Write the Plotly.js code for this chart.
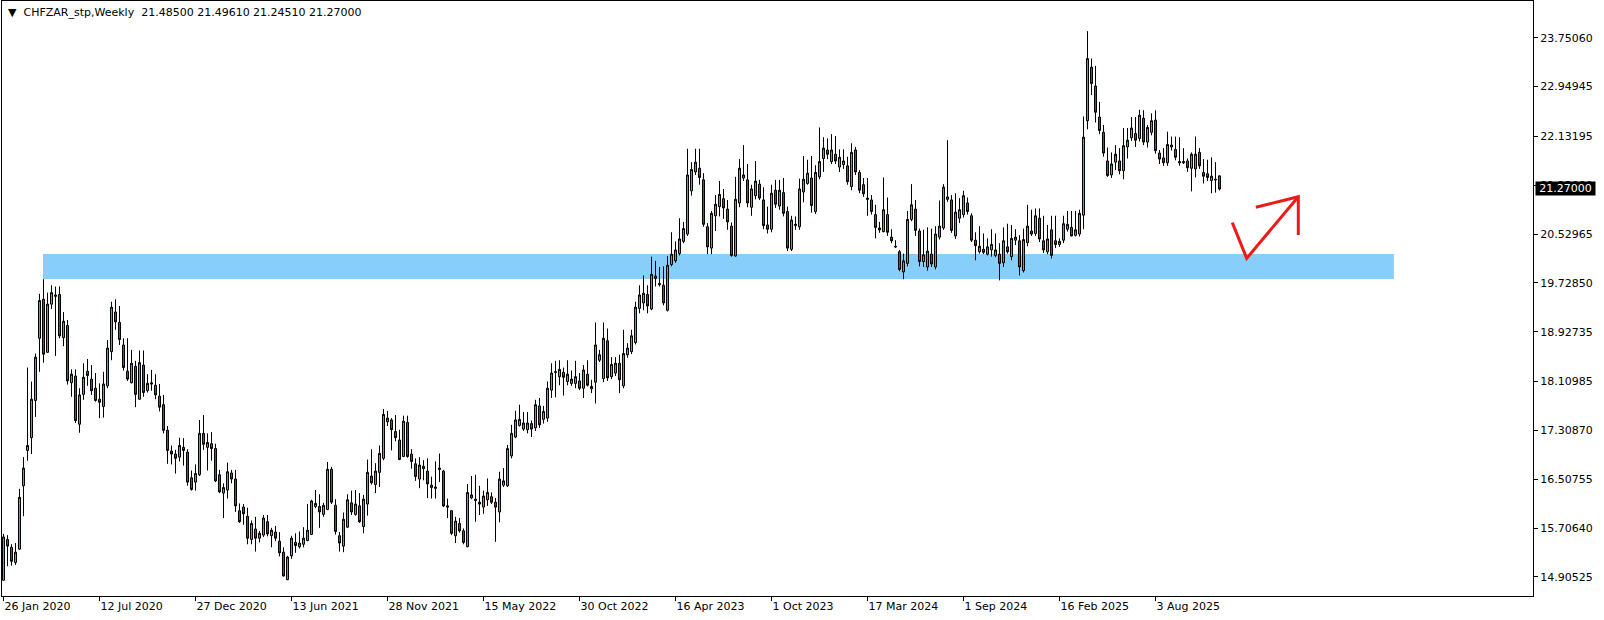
<!DOCTYPE html>
<html><head><meta charset="utf-8">
<script src="https://cdn.plot.ly/plotly-3.0.1.min.js"></script>
<style>html,body{margin:0;padding:0;background:#fff;overflow:hidden}</style>
</head><body><div id="chart" style="width:1604px;height:620px"></div>
<script>
const symbol = 'CHFZAR_stp';
const timeframe = 'Weekly';

const open = [
14.85,15.52,15.39,15.14,15.36,16.40,16.98,17.19,17.80,18.82,
19.46,18.59,19.38,19.53,19.54,18.83,19.03,18.09,18.20,17.41,
17.90,18.28,18.15,18.00,17.82,17.70,18.04,18.60,19.25,19.08,
18.71,18.28,18.09,18.36,17.82,18.38,17.96,18.09,18.05,17.87,
17.73,17.31,16.97,16.92,16.87,17.03,16.95,16.53,16.46,16.58,
17.26,17.03,17.09,17.01,16.58,16.28,16.33,16.61,16.51,15.99,
16.05,15.90,15.52,15.69,15.54,15.59,15.81,15.58,15.64,15.49,
15.31,14.86,15.25,15.47,15.40,15.44,15.50,15.60,16.06,16.06,
15.93,16.01,16.67,16.08,15.58,15.41,15.72,16.12,15.93,16.07,
15.73,16.10,16.56,16.42,16.62,16.85,17.45,17.48,17.29,17.15,
16.88,17.44,16.92,16.76,16.51,16.68,16.64,16.37,16.38,16.69,
16.64,16.07,15.99,15.58,15.78,15.66,15.40,16.20,16.18,16.13,
16.05,16.17,16.22,16.13,15.97,16.41,16.40,16.89,17.20,17.39,
17.33,17.32,17.42,17.35,17.71,17.49,17.51,17.97,18.26,18.19,
18.26,18.11,18.08,18.08,18.12,18.00,18.23,17.99,18.10,18.46,
18.16,18.78,18.19,18.25,18.41,18.04,18.55,18.60,18.75,19.31,
19.40,19.54,19.30,19.80,19.72,19.69,19.28,20.03,20.09,20.21,
20.41,20.53,21.24,21.55,21.61,21.42,20.65,20.30,20.83,20.98,
21.11,20.94,20.66,20.17,21.04,21.45,21.42,20.97,21.16,21.35,
21.09,20.68,20.61,21.25,20.99,21.21,20.90,20.28,20.67,20.65,
21.22,21.36,21.45,20.90,21.47,21.77,21.91,21.72,21.84,21.63,
21.67,21.65,21.31,21.91,21.54,21.34,21.12,21.09,20.85,20.63,
20.57,20.85,20.48,20.33,20.24,19.91,20.05,20.77,20.94,20.58,
20.08,19.99,20.20,19.99,20.48,20.63,21.10,21.09,20.50,20.79,
20.85,21.04,20.83,20.43,20.24,20.28,20.20,20.27,20.18,20.20,
20.06,20.32,20.16,20.43,20.42,19.93,20.39,20.58,20.54,20.79,
20.42,20.24,20.60,20.42,20.36,20.43,20.61,20.64,20.51,20.53,
20.84,22.39,23.27,22.96,22.45,22.20,21.73,21.50,21.71,21.73,
21.57,21.96,22.11,22.18,22.10,22.43,22.04,22.20,22.40,21.86,
21.78,21.70,21.96,21.92,21.72,21.72,21.73,21.61,21.60,21.87,
21.54,21.52,21.41,21.43,21.485];

const high = [
15.61,15.59,15.44,15.46,16.35,16.87,18.34,18.11,18.57,19.55,
19.79,19.57,19.69,19.67,19.67,19.25,19.12,18.31,18.31,18.00,
18.41,18.48,18.38,18.25,18.08,18.27,18.79,19.42,19.46,19.35,
18.82,18.82,18.63,18.45,18.62,18.62,18.23,18.30,18.23,18.07,
17.89,17.38,17.06,16.99,17.19,17.18,17.00,16.65,16.75,17.48,
17.56,17.26,17.28,17.09,16.66,16.44,16.78,16.66,16.66,16.11,
16.10,16.04,15.83,15.89,15.66,15.92,15.92,15.71,15.74,15.64,
15.39,15.25,15.58,15.62,15.65,15.72,16.10,16.17,16.33,16.26,
16.12,16.79,16.71,16.18,15.64,15.96,16.26,16.32,16.33,16.28,
16.25,16.83,17.00,16.77,17.06,17.66,17.63,17.51,17.56,17.32,
17.55,17.55,17.00,16.85,16.87,16.82,16.85,16.55,16.80,16.93,
16.66,16.19,16.00,15.89,15.87,15.70,16.43,16.56,16.58,16.40,
16.32,16.52,16.29,16.20,16.63,16.69,17.07,17.40,17.63,17.73,
17.61,17.61,17.47,17.81,17.84,17.71,18.11,18.41,18.45,18.46,
18.34,18.46,18.29,18.45,18.25,18.38,18.46,18.14,19.08,18.63,
19.08,18.98,18.51,18.51,18.55,18.96,18.74,18.96,19.42,19.69,
19.85,19.69,20.16,20.09,19.99,20.00,20.17,20.56,20.41,20.79,
20.73,21.93,21.71,21.93,21.93,21.53,20.71,20.91,21.17,21.40,
21.27,21.09,20.72,21.47,21.76,21.99,21.68,21.34,21.73,21.42,
21.30,20.98,21.34,21.42,21.42,21.45,20.98,20.83,20.82,21.44,
21.81,21.75,21.81,21.66,22.28,22.12,22.10,22.17,22.14,21.92,
21.92,21.80,22.02,21.96,21.58,21.45,21.45,21.17,21.01,20.73,
21.46,21.13,20.61,20.43,20.27,20.21,20.91,21.35,21.09,20.62,
20.60,20.64,20.62,20.66,21.08,21.35,22.07,21.17,21.20,21.12,
21.24,21.13,20.87,20.56,20.66,20.54,20.46,20.61,20.54,20.38,
20.64,20.70,20.68,20.61,20.51,20.62,21.01,20.93,20.95,20.95,
20.83,20.68,20.83,20.83,20.46,20.83,20.91,20.91,20.91,20.93,
22.46,23.86,23.41,23.29,22.70,22.32,21.95,21.87,21.99,21.94,
22.27,22.27,22.45,22.45,22.57,22.56,22.32,22.51,22.56,21.91,
21.94,22.21,22.13,22.13,22.12,21.94,21.77,21.87,22.13,21.94,
21.76,21.75,21.79,21.71,21.4961];

const low = [
14.84,15.08,15.09,15.10,15.35,15.90,16.81,16.92,17.53,18.27,
18.42,18.58,19.30,18.53,18.82,18.69,18.06,17.86,17.43,17.27,
17.81,18.04,17.89,17.78,17.51,17.52,18.00,18.46,18.96,18.71,
18.29,18.12,18.08,17.69,17.81,17.86,17.93,17.96,17.82,17.62,
17.26,16.76,16.75,16.60,16.80,16.73,16.40,16.32,16.32,16.56,
16.99,16.65,16.81,16.46,16.28,15.87,16.19,16.44,15.97,15.79,
15.76,15.44,15.44,15.32,15.47,15.56,15.57,15.39,15.49,15.24,
14.91,14.85,15.20,15.30,15.37,15.39,15.49,15.59,16.03,15.71,
15.89,16.00,16.10,15.60,15.32,15.31,15.71,15.92,15.91,15.79,
15.62,15.91,16.42,16.28,16.38,16.82,17.38,16.98,17.13,16.82,
16.87,16.86,16.68,16.48,16.36,16.49,16.20,16.19,16.19,16.46,
16.05,15.87,15.59,15.46,15.63,15.44,15.39,16.18,15.81,15.92,
15.94,16.07,16.10,15.48,15.80,16.38,16.38,16.85,17.18,17.37,
17.30,17.26,17.20,17.30,17.35,17.42,17.45,17.84,17.85,18.05,
17.88,18.05,18.04,18.00,17.97,17.84,18.03,17.92,17.75,18.43,
18.10,18.12,18.15,18.20,17.92,18.00,18.50,18.56,18.72,19.23,
19.28,19.23,19.28,19.67,19.67,19.36,19.26,20.00,20.06,20.18,
20.38,20.50,21.16,21.50,21.34,20.65,20.20,20.20,20.58,20.82,
20.78,20.60,20.16,20.16,20.97,21.40,20.97,20.83,21.10,21.09,
20.61,20.54,20.56,20.96,20.93,20.82,20.25,20.25,20.60,20.60,
21.05,21.34,20.88,20.86,21.43,21.55,21.76,21.68,21.68,21.55,
21.60,21.34,21.25,21.50,21.20,21.14,20.83,20.85,20.46,20.55,
20.56,20.50,20.38,20.30,19.92,19.79,20.00,20.74,20.50,20.00,
19.99,19.93,19.99,19.95,20.44,20.60,21.06,20.55,20.45,20.71,
20.80,20.85,20.40,20.10,20.21,20.20,20.18,20.16,20.15,19.77,
19.99,20.21,20.10,20.35,19.85,19.90,20.33,20.50,20.50,20.40,
20.22,20.20,20.13,20.30,20.32,20.38,20.57,20.49,20.49,20.49,
20.61,22.25,22.81,22.36,22.17,21.80,21.47,21.45,21.58,21.51,
21.43,21.77,22.06,21.96,22.05,21.99,21.95,22.15,21.85,21.68,
21.65,21.65,21.90,21.74,21.65,21.68,21.55,21.23,21.46,21.60,
21.36,21.40,21.20,21.21,21.2451];

const close = [
15.56,15.41,15.16,15.31,16.21,16.69,17.06,17.82,18.51,19.44,
18.56,19.38,19.57,19.51,18.86,19.10,18.12,18.23,17.47,17.89,
18.18,18.21,17.96,17.80,17.77,18.07,18.66,19.33,19.09,18.80,
18.34,18.15,18.41,17.90,18.42,17.93,18.08,18.07,17.89,17.69,
17.31,16.98,16.92,16.85,17.06,16.98,16.46,16.34,16.60,17.26,
17.08,17.11,17.01,16.48,16.30,16.37,16.63,16.51,16.07,15.81,
15.94,15.54,15.78,15.54,15.62,15.87,15.61,15.67,15.54,15.30,
14.92,15.23,15.54,15.42,15.46,15.54,15.67,16.15,16.11,15.97,
16.08,16.67,16.13,15.65,15.46,15.85,16.17,15.97,16.10,15.81,
16.18,16.62,16.45,16.64,16.93,17.57,17.51,17.32,17.19,16.83,
17.46,16.88,16.80,16.55,16.74,16.72,16.43,16.41,16.36,16.67,
16.07,16.05,15.62,15.82,15.66,15.47,16.29,16.25,16.16,16.10,
16.23,16.29,16.13,16.05,16.51,16.48,17.01,17.26,17.48,17.49,
17.43,17.43,17.33,17.73,17.40,17.62,18.00,18.25,18.27,18.31,
18.18,18.23,18.15,18.19,18.00,18.30,18.05,18.03,18.71,18.55,
18.82,18.17,18.39,18.41,18.14,18.57,18.66,18.86,19.33,19.53,
19.56,19.35,19.87,19.84,19.70,19.40,20.02,20.20,20.27,20.45,
20.62,21.50,21.59,21.71,21.46,20.69,20.32,20.87,21.02,21.18,
20.96,20.73,20.18,21.10,21.61,21.50,21.04,21.27,21.40,21.12,
20.67,20.61,21.20,21.02,21.25,20.87,20.30,20.76,20.69,21.27,
21.43,21.53,21.00,21.54,21.72,21.94,21.84,21.91,21.73,21.79,
21.73,21.39,21.87,21.55,21.25,21.19,21.10,20.90,20.64,20.60,
20.93,20.56,20.42,20.32,19.95,20.09,20.77,21.01,20.59,20.08,
20.19,20.25,20.04,20.53,20.66,21.30,21.14,20.59,20.89,20.93,
21.16,20.90,20.43,20.34,20.33,20.23,20.32,20.36,20.27,20.05,
20.42,20.24,20.46,20.48,19.99,20.44,20.66,20.53,20.83,20.45,
20.27,20.45,20.18,20.36,20.41,20.70,20.69,20.50,20.60,20.87,
22.12,23.41,23.00,22.53,22.23,21.86,21.49,21.68,21.84,21.57,
21.98,22.07,22.27,22.07,22.48,22.04,22.28,22.39,21.90,21.76,
21.70,22.00,21.99,21.79,21.70,21.70,21.62,21.84,21.84,21.65,
21.48,21.46,21.48,21.42,21.27];

const tickBars = [0,24,48,72,96,120,144,168,192,216,240,264,288];
const tickLabels = ['26 Jan 2020','12 Jul 2020','27 Dec 2020','13 Jun 2021','28 Nov 2021','15 May 2022',
  '30 Oct 2022','16 Apr 2023','1 Oct 2023','17 Mar 2024','1 Sep 2024','16 Feb 2025','3 Aug 2025'];
const priceTicks = [23.75060,22.94945,22.13195,21.33080,20.52965,19.72850,18.92735,18.10985,17.30870,16.50755,15.70640,14.90525];

// support zone (bar index span and price band)
const zoneBars = [9.875, 347.6];
const zonePrices = [19.793, 20.203];
// hand-drawn red arrow (bar index, price)
const vBars = [307.2, 310.8, 323.7];
const vPrices = [20.717, 20.132, 21.143];
const headBars = [313.1, 323.7, 323.7];
const headPrices = [20.969, 21.143, 20.515];

const n = close.length;
const xs = open.map((_, i) => i);
const FONT = 'DejaVu Sans, Verdana, sans-serif';

const candles = {
  type: 'candlestick', x: xs, open: open, high: high, low: low, close: close,
  line: {width: 1},
  whiskerwidth: 0,
  increasing: {line: {color: '#000000', width: 1}, fillcolor: '#32CD32'},
  decreasing: {line: {color: '#000000', width: 1}, fillcolor: '#DC1E1E'},
  hoverinfo: 'skip', showlegend: false
};
const arrowV = {type: 'scatter', mode: 'lines', x: vBars, y: vPrices,
  line: {color: '#F01818', width: 3}, hoverinfo: 'skip', showlegend: false};
const arrowHead = {type: 'scatter', mode: 'lines', x: headBars, y: headPrices,
  line: {color: '#F01818', width: 3}, hoverinfo: 'skip', showlegend: false};

const last = n - 1;
const titleText = '\u25BC\u00A0\u00A0' + symbol + ',' + timeframe + '\u00A0\u00A0' +
  [open[last], high[last], low[last], close[last]].map(v => v.toFixed(5)).join('\u00A0');

const layout = {
  width: 1604, height: 620,
  margin: {l: 2, r: 71, t: 1, b: 24, pad: 0},
  paper_bgcolor: '#ffffff', plot_bgcolor: '#ffffff',
  showlegend: false,
  boxgap: 0.5, boxgroupgap: 0,
  font: {family: FONT, size: 11, color: '#000000'},
  xaxis: {
    range: [-0.375, 382.375], showgrid: false, zeroline: false,
    showline: true, linecolor: '#000000', linewidth: 1, mirror: true,
    ticks: 'outside', ticklen: 4, tickcolor: '#000000', tickwidth: 1,
    tickmode: 'array', tickvals: tickBars, ticktext: tickLabels,
    ticklabelposition: 'outside right',
    tickfont: {family: FONT, size: 11, color: '#000000'},
    rangeslider: {visible: false}, fixedrange: true
  },
  yaxis: {
    side: 'right', range: [14.591, 24.3546], showgrid: false, zeroline: false,
    showline: true, linecolor: '#000000', linewidth: 1, mirror: true,
    ticks: 'outside', ticklen: 4, tickcolor: '#000000', tickwidth: 1,
    tickmode: 'array', tickvals: priceTicks, ticktext: priceTicks.map(v => v.toFixed(5)),
    tickfont: {family: FONT, size: 11, color: '#000000'},
    fixedrange: true
  },
  shapes: [{
    type: 'rect', xref: 'x', yref: 'y', layer: 'below',
    x0: zoneBars[0], x1: zoneBars[1], y0: zonePrices[0], y1: zonePrices[1],
    fillcolor: '#87CEFA', line: {width: 0}
  }],
  annotations: [
    {xref: 'paper', yref: 'paper', x: 0.0026, y: 0.9807, xanchor: 'left', yanchor: 'middle',
     text: titleText, showarrow: false, font: {family: FONT, size: 11, color: '#000000'}},
    {xref: 'paper', yref: 'y', x: 1.0013, y: close[last], xanchor: 'left', yanchor: 'middle',
     text: close[last].toFixed(5), showarrow: false, bgcolor: '#000000', borderpad: 0,
     width: 59, height: 13, align: 'center',
     font: {family: FONT, size: 11, color: '#ffffff'}}
  ]
};

Plotly.newPlot('chart', [candles, arrowV, arrowHead], layout, {staticPlot: true, displayModeBar: false});
</script>
</body></html>
